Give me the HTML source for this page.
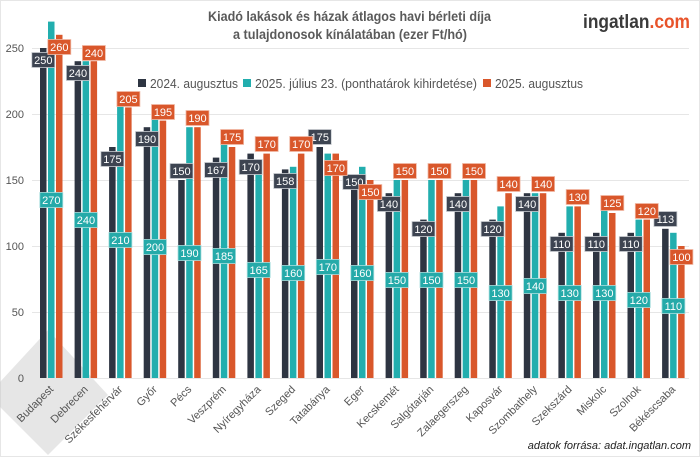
<!DOCTYPE html>
<html><head><meta charset="utf-8"><style>
body{margin:0;background:#fff}
svg{display:block;font-family:"Liberation Sans",sans-serif}
.d{fill:#2e3542}.t{fill:#22aeae}.o{fill:#d9572b}
.ld rect{fill:#3d4451;stroke:#c9ccd1;stroke-width:.8}
.lt rect{fill:#25aaa9;stroke:#a8dede;stroke-width:.8}
.lo rect{fill:#d9572b;stroke:#f0b9a6;stroke-width:.8}
.lb text{fill:#fff;font-size:11px;text-anchor:middle}
.xl{font-size:11px;fill:#555;text-anchor:end}
.yl{font-size:11px;fill:#555;text-anchor:end}
</style></head><body>
<svg width="700" height="457" viewBox="0 0 700 457">
<rect x="0.5" y="0.5" width="699" height="456" fill="#fff" stroke="#e6e6e6"/>
<polygon points="48,330 108,395 48,455 -12,395" fill="#c8c8c8" opacity="0.45"/>
<text x="208" y="21" textLength="283" lengthAdjust="spacingAndGlyphs" font-size="14" font-weight="bold" fill="#5a5a5a">Kiadó lakások és házak átlagos havi bérleti díja</text>
<text x="233" y="39" textLength="234" lengthAdjust="spacingAndGlyphs" font-size="14" font-weight="bold" fill="#5a5a5a">a tulajdonosok kínálatában (ezer Ft/hó)</text>
<text x="583" y="28" textLength="107" lengthAdjust="spacingAndGlyphs" font-size="19" font-weight="bold" fill="#3a3a3a">ingatlan<tspan fill="#e8532a">.com</tspan></text>
<g stroke="#e6e6e6" stroke-width="1">
<line x1="32" x2="689" y1="48.5" y2="48.5"/><line x1="32" x2="689" y1="114.5" y2="114.5"/><line x1="32" x2="689" y1="180.5" y2="180.5"/><line x1="32" x2="689" y1="246.5" y2="246.5"/><line x1="32" x2="689" y1="312.5" y2="312.5"/><line x1="32" x2="689" y1="378.5" y2="378.5"/>
</g>
<g class="yl"><text x="24" y="52">250</text><text x="24" y="118">200</text><text x="24" y="184">150</text><text x="24" y="250">100</text><text x="24" y="316">50</text><text x="24" y="382">0</text></g>
<g font-size="13" fill="#555">
<rect x="138" y="79" width="8" height="8" class="d"/><text x="150" y="88" textLength="88" lengthAdjust="spacingAndGlyphs">2024. augusztus</text>
<rect x="243" y="79" width="8" height="8" class="t"/><text x="255" y="88" textLength="222" lengthAdjust="spacingAndGlyphs">2025. július 23. (ponthatárok kihirdetése)</text>
<rect x="483" y="79" width="8" height="8" class="o"/><text x="495" y="88" textLength="88" lengthAdjust="spacingAndGlyphs">2025. augusztus</text>
</g>
<g class="d">
<rect x="40" y="48" width="6.5" height="330"/><rect x="74.6" y="61.2" width="6.5" height="316.8"/><rect x="109.1" y="147" width="6.5" height="231"/><rect x="143.7" y="127.2" width="6.5" height="250.8"/><rect x="178.2" y="180" width="6.5" height="198"/><rect x="212.8" y="157.6" width="6.5" height="220.4"/><rect x="247.4" y="153.6" width="6.5" height="224.4"/><rect x="281.9" y="169.4" width="6.5" height="208.6"/><rect x="316.5" y="147" width="6.5" height="231"/><rect x="351" y="180" width="6.5" height="198"/><rect x="385.6" y="193.2" width="6.5" height="184.8"/><rect x="420.2" y="219.6" width="6.5" height="158.4"/><rect x="454.7" y="193.2" width="6.5" height="184.8"/><rect x="489.3" y="219.6" width="6.5" height="158.4"/><rect x="523.8" y="193.2" width="6.5" height="184.8"/><rect x="558.4" y="232.8" width="6.5" height="145.2"/><rect x="593" y="232.8" width="6.5" height="145.2"/><rect x="627.5" y="232.8" width="6.5" height="145.2"/><rect x="662.1" y="228.8" width="6.5" height="149.2"/>
</g>
<g class="t">
<rect x="48" y="21.6" width="6.5" height="356.4"/><rect x="82.6" y="61.2" width="6.5" height="316.8"/><rect x="117.1" y="100.8" width="6.5" height="277.2"/><rect x="151.7" y="114" width="6.5" height="264"/><rect x="186.2" y="127.2" width="6.5" height="250.8"/><rect x="220.8" y="133.8" width="6.5" height="244.2"/><rect x="255.4" y="160.2" width="6.5" height="217.8"/><rect x="289.9" y="166.8" width="6.5" height="211.2"/><rect x="324.5" y="153.6" width="6.5" height="224.4"/><rect x="359" y="166.8" width="6.5" height="211.2"/><rect x="393.6" y="180" width="6.5" height="198"/><rect x="428.2" y="180" width="6.5" height="198"/><rect x="462.7" y="180" width="6.5" height="198"/><rect x="497.3" y="206.4" width="6.5" height="171.6"/><rect x="531.8" y="193.2" width="6.5" height="184.8"/><rect x="566.4" y="206.4" width="6.5" height="171.6"/><rect x="601" y="206.4" width="6.5" height="171.6"/><rect x="635.5" y="219.6" width="6.5" height="158.4"/><rect x="670.1" y="232.8" width="6.5" height="145.2"/>
</g>
<g class="o">
<rect x="56" y="34.8" width="6.5" height="343.2"/><rect x="90.6" y="61.2" width="6.5" height="316.8"/><rect x="125.1" y="107.4" width="6.5" height="270.6"/><rect x="159.7" y="120.6" width="6.5" height="257.4"/><rect x="194.2" y="127.2" width="6.5" height="250.8"/><rect x="228.8" y="147" width="6.5" height="231"/><rect x="263.4" y="153.6" width="6.5" height="224.4"/><rect x="297.9" y="153.6" width="6.5" height="224.4"/><rect x="332.5" y="153.6" width="6.5" height="224.4"/><rect x="367" y="180" width="6.5" height="198"/><rect x="401.6" y="180" width="6.5" height="198"/><rect x="436.2" y="180" width="6.5" height="198"/><rect x="470.7" y="180" width="6.5" height="198"/><rect x="505.3" y="193.2" width="6.5" height="184.8"/><rect x="539.8" y="193.2" width="6.5" height="184.8"/><rect x="574.4" y="206.4" width="6.5" height="171.6"/><rect x="609" y="213" width="6.5" height="165"/><rect x="643.5" y="219.6" width="6.5" height="158.4"/><rect x="678.1" y="246" width="6.5" height="132"/>
</g>
<g class="lb ld">
<rect x="31.8" y="52.5" width="23" height="15"/><text x="43.3" y="64">250</text>
<rect x="66.4" y="65.5" width="23" height="15"/><text x="77.9" y="77">240</text>
<rect x="100.9" y="151.5" width="23" height="15"/><text x="112.4" y="163">175</text>
<rect x="135.5" y="131.5" width="23" height="15"/><text x="147" y="143">190</text>
<rect x="170" y="163.5" width="23" height="15"/><text x="181.5" y="175">150</text>
<rect x="204.6" y="162.5" width="23" height="15"/><text x="216.1" y="174">167</text>
<rect x="239.2" y="159.5" width="23" height="15"/><text x="250.7" y="171">170</text>
<rect x="273.7" y="173.5" width="23" height="15"/><text x="285.2" y="185">158</text>
<rect x="308.3" y="129.5" width="23" height="15"/><text x="319.8" y="141">175</text>
<rect x="342.8" y="174.5" width="23" height="15"/><text x="354.3" y="186">150</text>
<rect x="377.4" y="196.5" width="23" height="15"/><text x="388.9" y="208">140</text>
<rect x="412" y="221.5" width="23" height="15"/><text x="423.5" y="233">120</text>
<rect x="446.5" y="196.5" width="23" height="15"/><text x="458" y="208">140</text>
<rect x="481.1" y="221.5" width="23" height="15"/><text x="492.6" y="233">120</text>
<rect x="515.6" y="196.5" width="23" height="15"/><text x="527.1" y="208">140</text>
<rect x="550.2" y="236.5" width="23" height="15"/><text x="561.7" y="248">110</text>
<rect x="584.8" y="236.5" width="23" height="15"/><text x="596.3" y="248">110</text>
<rect x="619.3" y="236.5" width="23" height="15"/><text x="630.8" y="248">110</text>
<rect x="653.9" y="211.5" width="23" height="15"/><text x="665.4" y="223">113</text>
</g>
<g class="lb lt">
<rect x="39.8" y="192.5" width="23" height="15"/><text x="51.3" y="204">270</text>
<rect x="74.4" y="212.5" width="23" height="15"/><text x="85.9" y="224">240</text>
<rect x="108.9" y="232.5" width="23" height="15"/><text x="120.4" y="244">210</text>
<rect x="143.5" y="239.5" width="23" height="15"/><text x="155" y="251">200</text>
<rect x="178" y="245.5" width="23" height="15"/><text x="189.5" y="257">190</text>
<rect x="212.6" y="248.5" width="23" height="15"/><text x="224.1" y="260">185</text>
<rect x="247.2" y="262.5" width="23" height="15"/><text x="258.7" y="274">165</text>
<rect x="281.7" y="265.5" width="23" height="15"/><text x="293.2" y="277">160</text>
<rect x="316.3" y="259.5" width="23" height="15"/><text x="327.8" y="271">170</text>
<rect x="350.8" y="265.5" width="23" height="15"/><text x="362.3" y="277">160</text>
<rect x="385.4" y="272.5" width="23" height="15"/><text x="396.9" y="284">150</text>
<rect x="420" y="272.5" width="23" height="15"/><text x="431.5" y="284">150</text>
<rect x="454.5" y="272.5" width="23" height="15"/><text x="466" y="284">150</text>
<rect x="489.1" y="285.5" width="23" height="15"/><text x="500.6" y="297">130</text>
<rect x="523.6" y="278.5" width="23" height="15"/><text x="535.1" y="290">140</text>
<rect x="558.2" y="285.5" width="23" height="15"/><text x="569.7" y="297">130</text>
<rect x="592.8" y="285.5" width="23" height="15"/><text x="604.3" y="297">130</text>
<rect x="627.3" y="292.5" width="23" height="15"/><text x="638.8" y="304">120</text>
<rect x="661.9" y="298.5" width="23" height="15"/><text x="673.4" y="310">110</text>
</g>
<g class="lb lo">
<rect x="47.8" y="39.5" width="23" height="15"/><text x="59.3" y="51">260</text>
<rect x="82.4" y="45.5" width="23" height="15"/><text x="93.9" y="57">240</text>
<rect x="116.9" y="91.5" width="23" height="15"/><text x="128.4" y="103">205</text>
<rect x="151.5" y="104.5" width="23" height="15"/><text x="163" y="116">195</text>
<rect x="186" y="110.5" width="23" height="15"/><text x="197.5" y="122">190</text>
<rect x="220.6" y="129.5" width="23" height="15"/><text x="232.1" y="141">175</text>
<rect x="255.2" y="136.5" width="23" height="15"/><text x="266.7" y="148">170</text>
<rect x="289.7" y="136.5" width="23" height="15"/><text x="301.2" y="148">170</text>
<rect x="324.3" y="160.5" width="23" height="15"/><text x="335.8" y="172">170</text>
<rect x="358.8" y="184.5" width="23" height="15"/><text x="370.3" y="196">150</text>
<rect x="393.4" y="163.5" width="23" height="15"/><text x="404.9" y="175">150</text>
<rect x="428" y="163.5" width="23" height="15"/><text x="439.5" y="175">150</text>
<rect x="462.5" y="163.5" width="23" height="15"/><text x="474" y="175">150</text>
<rect x="497.1" y="176.5" width="23" height="15"/><text x="508.6" y="188">140</text>
<rect x="531.6" y="176.5" width="23" height="15"/><text x="543.1" y="188">140</text>
<rect x="566.2" y="189.5" width="23" height="15"/><text x="577.7" y="201">130</text>
<rect x="600.8" y="195.5" width="23" height="15"/><text x="612.3" y="207">125</text>
<rect x="635.3" y="203.5" width="23" height="15"/><text x="646.8" y="215">120</text>
<rect x="669.9" y="249.5" width="23" height="15"/><text x="681.4" y="261">100</text>
</g>
<g class="xl">
<text transform="translate(54,390) rotate(-45)">Budapest</text>
<text transform="translate(88.6,390) rotate(-45)">Debrecen</text>
<text transform="translate(123.1,390) rotate(-45)">Székesfehérvár</text>
<text transform="translate(157.7,390) rotate(-45)">Győr</text>
<text transform="translate(192.2,390) rotate(-45)">Pécs</text>
<text transform="translate(226.8,390) rotate(-45)">Veszprém</text>
<text transform="translate(261.4,390) rotate(-45)">Nyíregyháza</text>
<text transform="translate(295.9,390) rotate(-45)">Szeged</text>
<text transform="translate(330.5,390) rotate(-45)">Tatabánya</text>
<text transform="translate(365,390) rotate(-45)">Eger</text>
<text transform="translate(399.6,390) rotate(-45)">Kecskemét</text>
<text transform="translate(434.2,390) rotate(-45)">Salgótarján</text>
<text transform="translate(468.7,390) rotate(-45)">Zalaegerszeg</text>
<text transform="translate(503.3,390) rotate(-45)">Kaposvár</text>
<text transform="translate(537.8,390) rotate(-45)">Szombathely</text>
<text transform="translate(572.4,390) rotate(-45)">Szekszárd</text>
<text transform="translate(607,390) rotate(-45)">Miskolc</text>
<text transform="translate(641.5,390) rotate(-45)">Szolnok</text>
<text transform="translate(676.1,390) rotate(-45)">Békéscsaba</text>
</g>
<text x="691" y="449" text-anchor="end" font-size="11" font-style="italic" fill="#222">adatok forrása: adat.ingatlan.com</text>
</svg>
</body></html>
